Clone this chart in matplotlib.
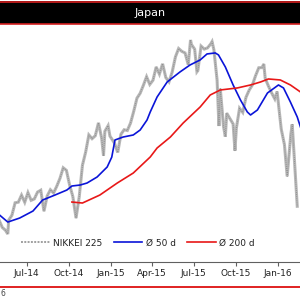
import matplotlib
matplotlib.use("Agg")
import matplotlib.pyplot as plt
import matplotlib.dates as mdates
from matplotlib.lines import Line2D
from matplotlib.patches import Rectangle
import pandas as pd

# NIKKEI 225, approx. closes
nikkei_dates = [
    "2014-05-02", "2014-05-09", "2014-05-16", "2014-05-21", "2014-05-23", "2014-05-30",
    "2014-06-06", "2014-06-13", "2014-06-20", "2014-06-27", "2014-07-04", "2014-07-11",
    "2014-07-18", "2014-07-25", "2014-08-01", "2014-08-08", "2014-08-15", "2014-08-22",
    "2014-08-29", "2014-09-05", "2014-09-12", "2014-09-19", "2014-09-26", "2014-10-03",
    "2014-10-10", "2014-10-17", "2014-10-24", "2014-10-31", "2014-11-07", "2014-11-14",
    "2014-11-21", "2014-11-28", "2014-12-05", "2014-12-12", "2014-12-16", "2014-12-19",
    "2014-12-26", "2014-12-30", "2015-01-09", "2015-01-16", "2015-01-23", "2015-01-30",
    "2015-02-06", "2015-02-13", "2015-02-20", "2015-02-27", "2015-03-06", "2015-03-13",
    "2015-03-20", "2015-03-27", "2015-04-03", "2015-04-10", "2015-04-17", "2015-04-24",
    "2015-05-01", "2015-05-08", "2015-05-15", "2015-05-22", "2015-05-29", "2015-06-05",
    "2015-06-12", "2015-06-19", "2015-06-24", "2015-06-26", "2015-07-03", "2015-07-08",
    "2015-07-10", "2015-07-17", "2015-07-24", "2015-07-31", "2015-08-07", "2015-08-10",
    "2015-08-14", "2015-08-21", "2015-08-25", "2015-08-28", "2015-09-04", "2015-09-08",
    "2015-09-11", "2015-09-18", "2015-09-25", "2015-09-29", "2015-10-02", "2015-10-09",
    "2015-10-16", "2015-10-23", "2015-10-30", "2015-11-06", "2015-11-13", "2015-11-20",
    "2015-11-27", "2015-12-01", "2015-12-04", "2015-12-11", "2015-12-18", "2015-12-25",
    "2015-12-30", "2016-01-08", "2016-01-15", "2016-01-21", "2016-01-29", "2016-02-01",
    "2016-02-05", "2016-02-12",
]
nikkei_vals = [
    14458, 14199, 14097, 13964, 14462, 14632,
    15077, 15097, 15349, 15095, 15437, 15164,
    15215, 15457, 15523, 14778, 15318, 15539,
    15425, 15668, 15948, 16321, 16229, 15708,
    15300, 14532, 15291, 16413, 16880, 17490,
    17357, 17460, 17920, 17371, 16755, 17621,
    17818, 17450, 17197, 16864, 17511, 17674,
    17648, 17913, 18332, 18797, 18971, 19254,
    19560, 19286, 19435, 19908, 19653, 20020,
    19532, 19379, 19733, 20264, 20563, 20461,
    20407, 19990, 20868, 20706, 20540, 19737,
    19780, 20650, 20544, 20585, 20724, 20808,
    20519, 19436, 17806, 19136, 17792, 17427,
    18264, 18070, 17880, 16930, 17725, 18438,
    18291, 18826, 19083, 19265, 19597, 19880,
    19884, 20012, 19504, 19231, 18986, 18770,
    19034, 17698, 17147, 16017, 17518, 17865,
    16820, 14952,
]

# 50-day average
ma50_dates = [
    "2014-05-03", "2014-05-21", "2014-06-16", "2014-07-15", "2014-08-05", "2014-09-01",
    "2014-09-27", "2014-10-08", "2014-10-26", "2014-11-10", "2014-12-02", "2014-12-24",
    "2015-01-03", "2015-01-10", "2015-01-28", "2015-02-19", "2015-03-06", "2015-03-21",
    "2015-03-28", "2015-04-12", "2015-05-04", "2015-06-01", "2015-06-23", "2015-07-15",
    "2015-07-30", "2015-08-17", "2015-08-24", "2015-09-08", "2015-09-25", "2015-10-11",
    "2015-10-26", "2015-11-02", "2015-11-17", "2015-12-09", "2016-01-02", "2016-01-13",
    "2016-01-28", "2016-02-12", "2016-02-19",
]
ma50_vals = [
    14641, 14391, 14534, 14783, 15174, 15352,
    15530, 15673, 15708, 15779, 15993, 16349,
    16700, 17310, 17416, 17488, 17665, 18021,
    18306, 18840, 19374, 19730, 19979, 20157,
    20370, 20406, 20335, 19907, 19267, 18733,
    18306, 18199, 18377, 18982, 19267, 19160,
    18662, 18128, 17772,
]

# 200-day average
ma200_dates = [
    "2014-10-08", "2014-10-31", "2014-12-08", "2015-01-15", "2015-02-19", "2015-03-28",
    "2015-04-12", "2015-05-11", "2015-06-08", "2015-07-15", "2015-08-06", "2015-08-28",
    "2015-10-04", "2015-11-02", "2015-11-24", "2015-12-11", "2016-01-06", "2016-01-28",
    "2016-02-19",
]
ma200_vals = [
    15103, 15068, 15352, 15779, 16135, 16705,
    17025, 17416, 17915, 18484, 18911, 19089,
    19160, 19267, 19374, 19480, 19445, 19267,
    19018,
]

tick_dates = ["2014-07-01", "2014-10-01", "2015-01-01", "2015-04-01",
              "2015-07-01", "2015-10-01", "2016-01-01"]

fig = plt.figure(figsize=(3, 3), dpi=100)

# title bar
fig.add_artist(Rectangle((0, 1 - 24 / 300), 1, 23 / 300, transform=fig.transFigure,
                         facecolor="black", edgecolor="none"))
fig.add_artist(Line2D([0, 1], [1 - 1.5 / 300] * 2, color="#d42020", lw=1.2))
fig.add_artist(Line2D([0, 1], [1 - 23.5 / 300] * 2, color="#d42020", lw=1.2))
fig.text(0.5, 1 - 12.5 / 300, "Japan", color="white", fontsize=8,
         ha="center", va="center")

ax = fig.add_axes([0, 38 / 300, 1, 237 / 300])
nd = pd.to_datetime(nikkei_dates)
ax.plot(nd, nikkei_vals, color="#b8b8b8", lw=2.2, solid_joinstyle="miter")
ax.plot(nd, nikkei_vals, color="#909090", lw=0.7, ls=(0, (1, 1)))
ax.plot(pd.to_datetime(ma50_dates), ma50_vals, color="#0a14d8", lw=1.2)
ax.plot(pd.to_datetime(ma200_dates), ma200_vals, color="#e81818", lw=1.2)

ax.set_xlim(pd.Timestamp("2014-05-04"), pd.Timestamp("2016-02-18"))
ax.set_ylim(12970, 21400)
ax.set_yticks([])
for s in ["left", "right", "top"]:
    ax.spines[s].set_visible(False)
ax.spines["bottom"].set_color("#606060")
ax.spines["bottom"].set_linewidth(0.8)
ax.set_xticks(pd.to_datetime(tick_dates))
ax.xaxis.set_major_formatter(mdates.DateFormatter("%b-%y"))
ax.tick_params(axis="x", length=3, width=0.8, color="#606060",
               labelsize=6.5, labelcolor="#222222", pad=2)
ax.patch.set_visible(False)

h_nk = Line2D([], [], color="#a0a0a0", lw=1.4, ls=(0, (1, 0.7)))
h_50 = Line2D([], [], color="#0a14d8", lw=1.2)
h_200 = Line2D([], [], color="#e81818", lw=1.2)
fig.legend([h_nk, h_50, h_200], ["NIKKEI 225", "Ø 50 d", "Ø 200 d"],
           loc="center", bbox_to_anchor=(0.46, 1 - 243 / 300), ncol=3, frameon=False,
           fontsize=6.5, handlelength=3.2, handletextpad=0.4, columnspacing=1.2,
           labelcolor="#222222")

# bottom rule and footer remnant
fig.add_artist(Line2D([0, 1], [13 / 300] * 2, color="#dd1010", lw=1.3))
fig.text(0.5 / 300, 6 / 300, "6", fontsize=5.5, color="#444444", ha="left", va="center")

fig.savefig("out.png", dpi=100)
